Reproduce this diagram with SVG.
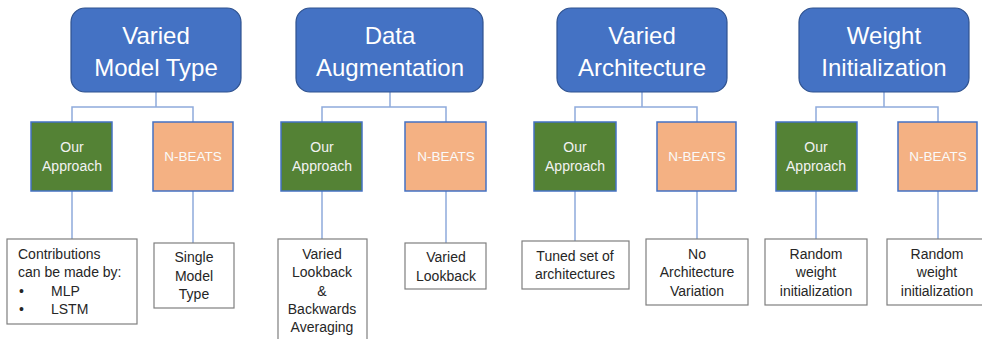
<svg xmlns="http://www.w3.org/2000/svg" width="982" height="339" viewBox="0 0 982 339">
<style>
.title{fill:#4472C4;stroke:#2F528F;stroke-width:1.2}
.tt{font-family:"Liberation Sans",Arial,sans-serif;font-size:24px;fill:#FFFFFF;text-anchor:middle}
.our{fill:#548235;stroke:#4472C4;stroke-width:1.5}
.nb{fill:#F4B183;stroke:#4472C4;stroke-width:1.5}
.mt{font-family:"Liberation Sans",Arial,sans-serif;font-size:14px;fill:#F2F2F2;text-anchor:middle}
.mn{font-family:"Liberation Sans",Arial,sans-serif;font-size:13.5px;fill:#FAFAFA;text-anchor:middle}
.leaf{fill:#FFFFFF;stroke:#7F7F7F;stroke-width:1.2}
.lt{font-family:"Liberation Sans",Arial,sans-serif;font-size:14px;fill:#262626;text-anchor:middle}
.lta{font-family:"Liberation Sans",Arial,sans-serif;font-size:14px;fill:#262626}
.con{fill:none;stroke:#8FAADC;stroke-width:1.5}
</style>
<rect width="982" height="339" fill="#FFFFFF"/>
<g id="connectors">
<path class="con" d="M156 92V107M72 122V107H193V122M72 191V239M193 191V243"/>
<path class="con" d="M390 92V107M322 122V107H446V122M322 191V239M446 191V243"/>
<path class="con" d="M642 92V107M575 122V107H697V122M575 191V241M697 191V239"/>
<path class="con" d="M884 92V107M816 122V107H938V122M816 191V239M938 191V239"/>
</g>
<g id="t1"><rect class="title" x="71" y="8" width="170" height="84" rx="14"/><text class="tt" x="156" y="44">Varied</text><text class="tt" x="156" y="76">Model Type</text></g>
<g id="t2"><rect class="title" x="296" y="8" width="187" height="84" rx="14"/><text class="tt" x="390" y="44">Data</text><text class="tt" x="390" y="76">Augmentation</text></g>
<g id="t3"><rect class="title" x="557" y="8" width="170" height="84" rx="14"/><text class="tt" x="642" y="44">Varied</text><text class="tt" x="642" y="76">Architecture</text></g>
<g id="t4"><rect class="title" x="799" y="8" width="170" height="84" rx="14"/><text class="tt" x="884" y="44">Weight</text><text class="tt" x="884" y="76">Initialization</text></g>

<g id="o1"><rect class="our" x="31" y="122" width="81" height="69"/><text class="mt" x="72" y="152">Our</text><text class="mt" x="72" y="171">Approach</text></g>
<g id="n1"><rect class="nb" x="153" y="122" width="80" height="69"/><text class="mn" x="193" y="161">N-BEATS</text></g>
<g id="o2"><rect class="our" x="281" y="122" width="81" height="69"/><text class="mt" x="322" y="152">Our</text><text class="mt" x="322" y="171">Approach</text></g>
<g id="n2"><rect class="nb" x="405" y="122" width="81" height="69"/><text class="mn" x="446" y="161">N-BEATS</text></g>
<g id="o3"><rect class="our" x="534" y="122" width="82" height="69"/><text class="mt" x="575" y="152">Our</text><text class="mt" x="575" y="171">Approach</text></g>
<g id="n3"><rect class="nb" x="657" y="122" width="79" height="69"/><text class="mn" x="697" y="161">N-BEATS</text></g>
<g id="o4"><rect class="our" x="776" y="122" width="81" height="69"/><text class="mt" x="816" y="152">Our</text><text class="mt" x="816" y="171">Approach</text></g>
<g id="n4"><rect class="nb" x="898" y="122" width="79" height="69"/><text class="mn" x="938" y="161">N-BEATS</text></g>

<g id="l1"><rect class="leaf" x="7" y="239" width="130" height="85"/><text class="lta" x="18" y="259">Contributions</text><text class="lta" x="18" y="277">can be made by:</text><text class="lta" x="19" y="296">•</text><text class="lta" x="51" y="296">MLP</text><text class="lta" x="19" y="314">•</text><text class="lta" x="51" y="314">LSTM</text></g>
<g id="l2"><rect class="leaf" x="154" y="243" width="80" height="65"/><text class="lt" x="194" y="262">Single</text><text class="lt" x="194" y="281">Model</text><text class="lt" x="194" y="299">Type</text></g>
<g id="l3"><rect class="leaf" x="278" y="239" width="89" height="110"/><text class="lt" x="322" y="259">Varied</text><text class="lt" x="322" y="277">Lookback</text><text class="lt" x="322" y="296">&amp;</text><text class="lt" x="322" y="314">Backwards</text><text class="lt" x="322" y="332">Averaging</text></g>
<g id="l4"><rect class="leaf" x="405" y="243" width="81" height="46"/><text class="lt" x="446" y="262">Varied</text><text class="lt" x="446" y="281">Lookback</text></g>
<g id="l5"><rect class="leaf" x="522" y="241" width="107" height="48"/><text class="lt" x="575" y="261">Tuned set of</text><text class="lt" x="575" y="279">architectures</text></g>
<g id="l6"><rect class="leaf" x="646" y="239" width="102" height="66"/><text class="lt" x="697" y="259">No</text><text class="lt" x="697" y="277">Architecture</text><text class="lt" x="697" y="296">Variation</text></g>
<g id="l7"><rect class="leaf" x="765" y="239" width="102" height="66"/><text class="lt" x="816" y="259">Random</text><text class="lt" x="816" y="277">weight</text><text class="lt" x="816" y="296">initialization</text></g>
<g id="l8"><rect class="leaf" x="887" y="239" width="100" height="66"/><text class="lt" x="937" y="259">Random</text><text class="lt" x="937" y="277">weight</text><text class="lt" x="937" y="296">initialization</text></g>
</svg>
